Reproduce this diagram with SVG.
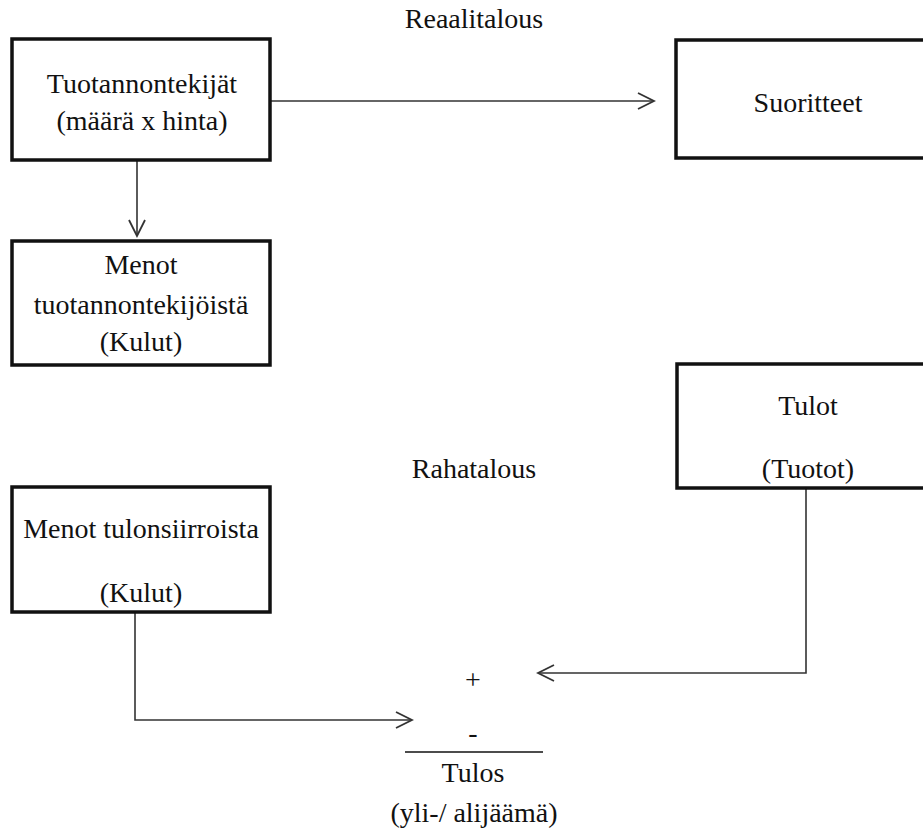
<svg xmlns="http://www.w3.org/2000/svg" width="923" height="830" viewBox="0 0 923 830" font-family="'Liberation Serif', 'Times New Roman', Tinos, 'DejaVu Serif', serif">
<style>
.box{fill:#fff;stroke:#111;stroke-width:3.5}
text{font-family:'Liberation Serif','Times New Roman',Tinos,'DejaVu Serif',serif;font-size:28px;fill:#111;text-anchor:middle}
.c{fill:none;stroke:#333;stroke-width:1.6}
</style>
<defs>
<marker id="ah" viewBox="0 0 20 20" refX="18" refY="10" markerWidth="20" markerHeight="20" markerUnits="userSpaceOnUse" orient="auto">
<path d="M2,2 L18,10 L2,18" fill="none" stroke="#333" stroke-width="1.8"/>
</marker>
</defs>
<rect width="923" height="830" fill="#fff"/>
<g id="label-reaalitalous"><text x="474" y="28">Reaalitalous</text></g>
<g id="label-rahatalous"><text x="474" y="478">Rahatalous</text></g>
<g id="connectors">
<path class="c" d="M270,101 H654" marker-end="url(#ah)"/>
<path class="c" d="M137,160 V236" marker-end="url(#ah)"/>
<path class="c" d="M135,612 V720 H412" marker-end="url(#ah)"/>
<path class="c" d="M806,488 V673 H538" marker-end="url(#ah)"/>
</g>
<g id="tuotannontekijat">
<rect class="box" x="12" y="39" width="258" height="121"/>
<text x="142" y="93">Tuotannontekijät</text>
<text x="142" y="130">(määrä x hinta)</text>
</g>
<g id="suoritteet">
<rect class="box" x="676" y="40" width="264" height="118"/>
<text x="808" y="112">Suoritteet</text>
</g>
<g id="menot-tuotannontekijoista">
<rect class="box" x="12" y="241" width="258" height="124"/>
<text x="141" y="274">Menot</text>
<text x="141" y="314">tuotannontekijöistä</text>
<text x="141" y="351">(Kulut)</text>
</g>
<g id="tulot">
<rect class="box" x="677" y="364" width="263" height="124"/>
<text x="808" y="415">Tulot</text>
<text x="808" y="478">(Tuotot)</text>
</g>
<g id="menot-tulonsiirroista">
<rect class="box" x="12" y="487" width="258" height="125"/>
<text x="141" y="538">Menot tulonsiirroista</text>
<text x="141" y="602">(Kulut)</text>
</g>
<g id="tulos">
<text x="473" y="689">+</text>
<text x="473" y="742">-</text>
<line x1="405" y1="752" x2="543" y2="752" stroke="#111" stroke-width="1.6"/>
<text x="473" y="782">Tulos</text>
<text x="474" y="822">(yli-/ alijäämä)</text>
</g>
</svg>
